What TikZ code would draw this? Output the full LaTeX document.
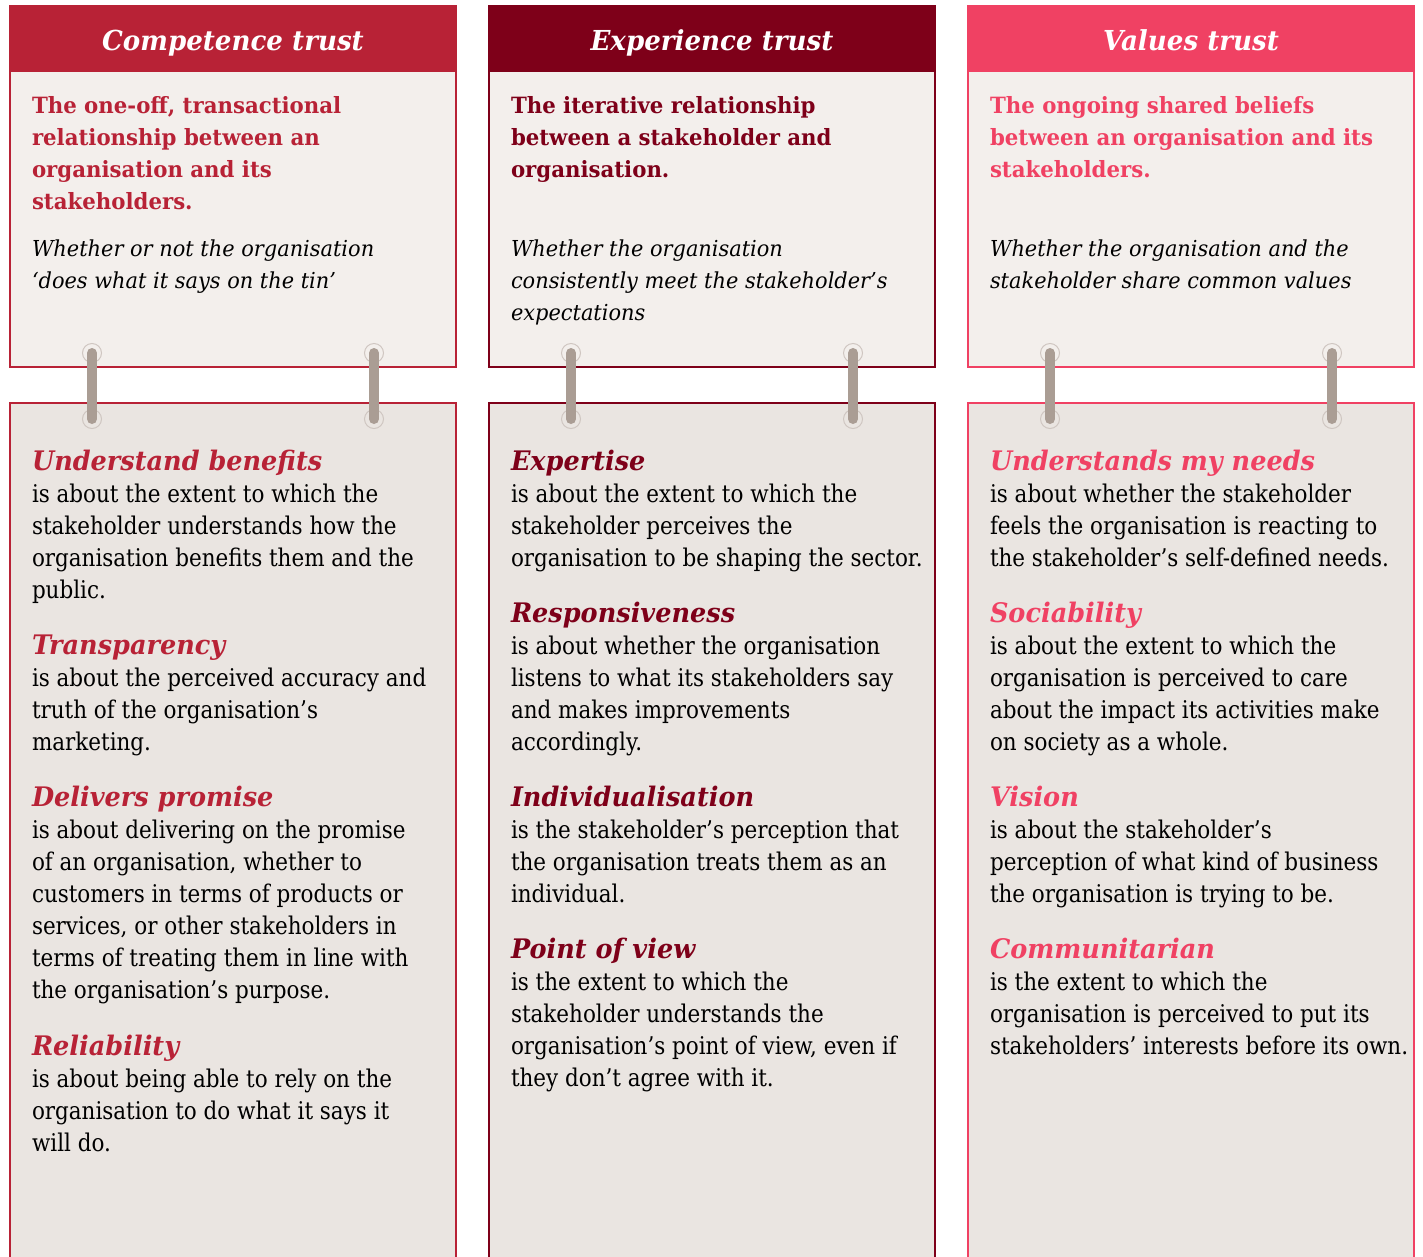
\documentclass[tikz,border=0pt]{standalone}
\usepackage{fontspec}
\setmainfont{DejaVu Serif}[FakeStretch=0.95]
\newfontfamily\myBodyFam{DejaVu Serif}[FakeStretch=0.88]
\definecolor{cA}{HTML}{B82236}
\definecolor{cB}{HTML}{7E0019}
\definecolor{cC}{HTML}{F04163}
\definecolor{topfill}{HTML}{F3EFEC}
\definecolor{lowfill}{HTML}{EAE5E1}
\definecolor{barcol}{HTML}{AA9D94}
\definecolor{ringcol}{HTML}{CFC6C1}
\newcommand\myTitleFont{\fontsize{27.5}{32}\selectfont\bfseries\itshape}
\newcommand\myDefFont{\fontsize{22.4}{32}\selectfont\bfseries}
\newcommand\myItFont{\fontsize{22}{32}\selectfont\itshape}
\newcommand\myHeadFont{\fontsize{26.9}{32}\selectfont\bfseries\itshape}
\newcommand\myBodyFont{\myBodyFam\fontsize{24.4}{32}\selectfont\mdseries\upshape}
\newcommand\myPar[1]{\parbox[t]{445pt}{\lineskiplimit=-100pt\raggedright\leavevmode #1}}
\newcommand\myEntry[3]{\myPar{\myHeadFont\color{#1}#2\\\myBodyFont\color{black}#3}}
\tikzset{
  headbox/.style={fill=#1, draw=none, minimum width=448pt, minimum height=67pt, inner sep=0pt, outer sep=0pt, anchor=north west},
  topbox/.style={fill=topfill, draw=#1, line width=2pt, minimum width=446pt, minimum height=296pt, inner sep=0pt, outer sep=0pt, anchor=north west},
  lowbox/.style={fill=lowfill, draw=#1, line width=2pt, minimum width=446pt, minimum height=880pt, inner sep=0pt, outer sep=0pt, anchor=north west},
  titletext/.style={text=white, inner sep=0pt, anchor=base, font=\myTitleFont},
  para/.style={inner sep=0pt, outer sep=0pt, anchor=base west},
  ring/.style={draw=ringcol, line width=1pt},
  bar/.style={draw=barcol, line width=10pt, line cap=round},
}
\begin{document}
\begin{tikzpicture}[x=1pt,y=-1pt]
\useasboundingbox (0,0) rectangle (1423,1256);
\fill[white] (0,0) rectangle (1423,1256);
\foreach \L/\c/\t/\n in {9/cA/Competence trust/a, 488/cB/Experience trust/b, 967/cC/Values trust/c}{
  \node[topbox=\c] (top\n) at (\L+1,71) {};
  \node[headbox=\c] (head\n) at (\L,5) {};
  \node[titletext] (title\n) at (\L+224,50) {\t};
  \node[lowbox=\c] (low\n) at (\L+1,403) {};
  \foreach \o/\k in {83/1,365/2}{
    \coordinate (ring\n\k t) at (\L+\o,353);
    \coordinate (ring\n\k b) at (\L+\o,419);
    \draw[ring] (ring\n\k t) circle (9.5);
    \draw[ring] (ring\n\k b) circle (9.5);
    \draw[bar] (ring\n\k t) -- (ring\n\k b);
  }
}
% ---- top box texts
\node[para] (defa) at (32,113) {\myPar{\myDefFont\color{cA}The one-off, transactional\\relationship between an\\organisation and its\\stakeholders.}};
\node[para] (ita) at (32,256) {\myPar{\myItFont Whether or not the organisation\\‘does what it says on the tin’}};
\node[para] (defb) at (511,113) {\myPar{\myDefFont\color{cB}The iterative relationship\\between a stakeholder and\\organisation.}};
\node[para] (itb) at (511,256) {\myPar{\myItFont Whether the organisation\\consistently meet the stakeholder’s\\expectations}};
\node[para] (defc) at (990,113) {\myPar{\myDefFont\color{cC}The ongoing shared beliefs\\between an organisation and its\\stakeholders.}};
\node[para] (itc) at (990,256) {\myPar{\myItFont Whether the organisation and the\\stakeholder share common values}};
% ---- column 1 entries
\node[para] (a1) at (32,470) {\myEntry{cA}{Understand benefits}{is about the extent to which the\\stakeholder understands how the\\organisation benefits them and the\\public.}};
\node[para] (a2) at (32,654) {\myEntry{cA}{Transparency}{is about the perceived accuracy and\\truth of the organisation’s\\marketing.}};
\node[para] (a3) at (32,806) {\myEntry{cA}{Delivers promise}{is about delivering on the promise\\of an organisation, whether to\\customers in terms of products or\\services, or other stakeholders in\\terms of treating them in line with\\the organisation’s purpose.}};
\node[para] (a4) at (32,1055) {\myEntry{cA}{Reliability}{is about being able to rely on the\\organisation to do what it says it\\will do.}};
% ---- column 2 entries
\node[para] (b1) at (511,470) {\myEntry{cB}{Expertise}{is about the extent to which the\\stakeholder perceives the\\organisation to be shaping the sector.}};
\node[para] (b2) at (511,622) {\myEntry{cB}{Responsiveness}{is about whether the organisation\\listens to what its stakeholders say\\and makes improvements\\accordingly.}};
\node[para] (b3) at (511,806) {\myEntry{cB}{Individualisation}{is the stakeholder’s perception that\\the organisation treats them as an\\individual.}};
\node[para] (b4) at (511,958) {\myEntry{cB}{Point of view}{is the extent to which the\\stakeholder understands the\\organisation’s point of view, even if\\they don’t agree with it.}};
% ---- column 3 entries
\node[para] (c1) at (990,470) {\myEntry{cC}{Understands my needs}{is about whether the stakeholder\\feels the organisation is reacting to\\the stakeholder’s self-defined needs.}};
\node[para] (c2) at (990,622) {\myEntry{cC}{Sociability}{is about the extent to which the\\organisation is perceived to care\\about the impact its activities make\\on society as a whole.}};
\node[para] (c3) at (990,806) {\myEntry{cC}{Vision}{is about the stakeholder’s\\perception of what kind of business\\the organisation is trying to be.}};
\node[para] (c4) at (990,958) {\myEntry{cC}{Communitarian}{is the extent to which the\\organisation is perceived to put its\\stakeholders’ interests before its own.}};
\end{tikzpicture}
\end{document}
